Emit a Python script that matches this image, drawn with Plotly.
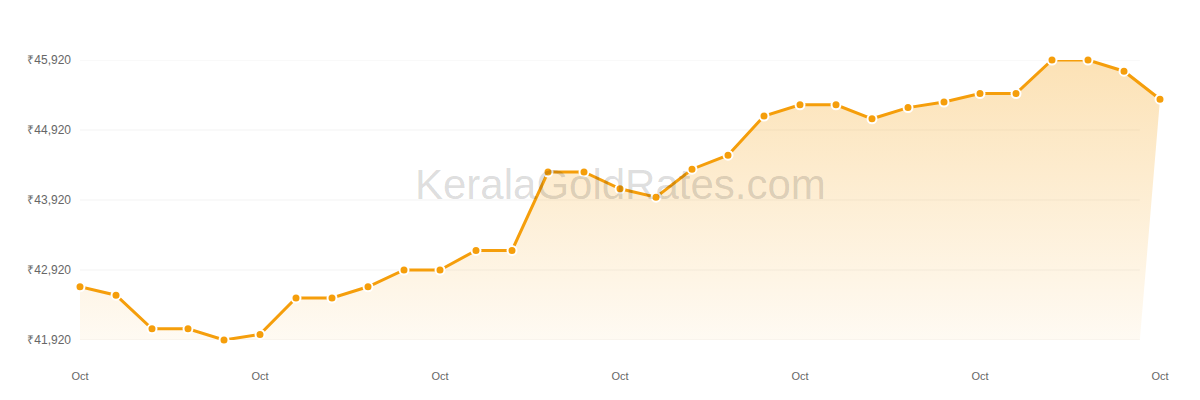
import plotly.graph_objects as go

# Gold rate (8 g) for each day of October
days = list(range(1, 32))
rates = [42680, 42560, 42080, 42080, 41920, 42000, 42520, 42520, 42680, 42920,
         42920, 43200, 43200, 44320, 44320, 44080, 43960, 44360, 44560, 45120,
         45280, 45280, 45080, 45240, 45320, 45440, 45440, 45920, 45920, 45760,
         45360]

x_tick_vals = [1, 6, 11, 16, 21, 26, 31]
x_tick_text = ["Oct"] * len(x_tick_vals)
y_tick_vals = [41920, 42920, 43920, 44920, 45920]
y_tick_text = ["₹41,920", "₹42,920", "₹43,920", "₹44,920", "₹45,920"]

orange = "#f59e0b"
fill_inset = 0.56  # the area stops a bit short of the last point

fig = go.Figure()

# gradient area under the line
fill_x = days + [days[-1] - fill_inset, days[0]]
fill_y = rates + [min(rates), min(rates)]
fig.add_trace(go.Scatter(
    x=fill_x, y=fill_y,
    mode="none",
    fill="toself",
    fillgradient=dict(
        type="vertical",
        colorscale=[[0, "rgba(245,158,11,0.05)"], [1, "rgba(245,158,11,0.30)"]],
    ),
    hoverinfo="skip",
    showlegend=False,
))

# grid lines, only across the filled part
for v in y_tick_vals:
    fig.add_shape(type="line", xref="x", yref="y",
                  x0=days[0], x1=days[-1] - fill_inset, y0=v, y1=v,
                  line=dict(color="#f3f3f3", width=1), layer="below")

fig.add_trace(go.Scatter(
    x=days, y=rates,
    mode="lines+markers",
    line=dict(color=orange, width=3),
    marker=dict(size=9, color=orange, line=dict(color="white", width=2)),
    cliponaxis=False,
    showlegend=False,
))

fig.add_annotation(
    text="KeralaGoldRates.com",
    xref="paper", yref="paper", x=0.5, y=0.554,
    xanchor="center", yanchor="middle",
    showarrow=False,
    font=dict(family="Liberation Sans, Arial", size=42, color="rgba(0,0,0,0.15)"),
)

# page body adds 8px, margins are shifted to compensate
fig.update_layout(
    width=1200, height=400,
    margin=dict(l=72, r=48, t=52, b=68),
    paper_bgcolor="white",
    plot_bgcolor="white",
    font=dict(family="Liberation Sans, Arial", color="#666666"),
    xaxis=dict(
        range=[1, 31],
        tickvals=x_tick_vals, ticktext=x_tick_text,
        showgrid=False, zeroline=False, showline=False,
        ticks="", ticklabelstandoff=28,
        tickfont=dict(size=11),
    ),
    yaxis=dict(
        range=[41920, 45920],
        tickvals=y_tick_vals, ticktext=y_tick_text,
        showgrid=False, zeroline=False, showline=False,
        ticks="", ticklabelstandoff=8,
        tickfont=dict(size=12),
    ),
)

fig.write_html("out.html")
